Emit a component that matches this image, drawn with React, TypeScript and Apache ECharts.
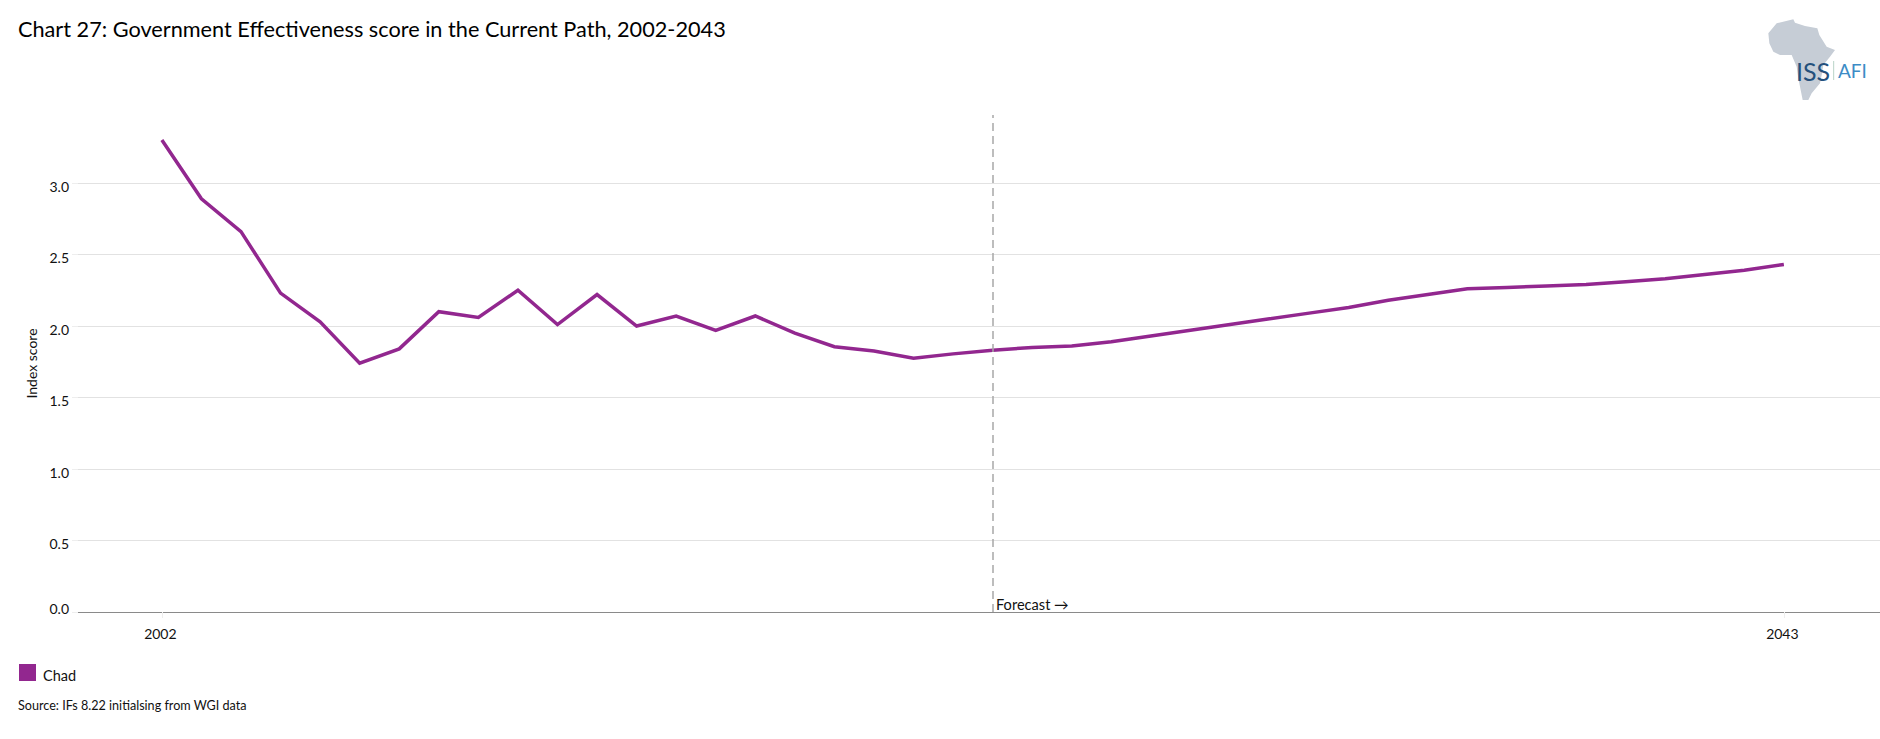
import React, { useEffect, useRef } from "react";
import * as echarts from "echarts";

const titleText = "Chart 27: Government Effectiveness score in the Current Path, 2002-2043";
const sourceText = "Source: IFs 8.22 initialsing from WGI data";
const seriesName = "Chad";
const years = [2002,2003,2004,2005,2006,2007,2008,2009,2010,2011,2012,2013,2014,2015,2016,2017,2018,2019,2020,2021,2022,2023,2024,2025,2026,2027,2028,2029,2030,2031,2032,2033,2034,2035,2036,2037,2038,2039,2040,2041,2042,2043];
const values = [3.30,2.89,2.66,2.23,2.03,1.74,1.84,2.10,2.06,2.25,2.01,2.22,2.00,2.07,1.97,2.07,1.95,1.855,1.825,1.775,1.805,1.83,1.85,1.86,1.89,1.93,1.97,2.01,2.05,2.09,2.13,2.18,2.22,2.26,2.27,2.28,2.29,2.31,2.33,2.36,2.39,2.43];
const yTicks = [0,0.5,1,1.5,2,2.5,3];
const xTicks = [2002,2043];
const forecastYear = 2023;

const FONT = "Lato";
const africa = [[290,70],[340,58],[345,68],[375,78],[412,85],[418,105],[440,140],[465,150],[450,170],[430,195],[425,225],[420,250],[395,280],[385,300],[368,300],[362,270],[355,235],[350,200],[335,165],[300,165],[280,155],[268,130],[265,100]].map(([x,y]) => [1680 + x/3, y/3]);

export default function App() {
  const ref = useRef<HTMLDivElement>(null);
  useEffect(() => {
    const chart = echarts.init(ref.current!, undefined, { renderer: "svg" });
    chart.setOption({
      animation: false,
      backgroundColor: "#fff",
      textStyle: { fontFamily: FONT },
      grid: { left: 78, right: 0, top: 115, bottom: 127 },
      xAxis: {
        type: "value", min: 1999.88, max: 2045.43,
        splitLine: { show: false },
        axisLine: { onZero: false, lineStyle: { color: "#8a8a8a", width: 1.2 } },
        axisTick: { customValues: xTicks, length: 6, lineStyle: { color: "#eeeeee" } },
        axisLabel: { customValues: xTicks, color: "#111", fontSize: 14, margin: 14, padding: [0, 3, 0, 0], formatter: (v: number) => String(v) },
      },
      yAxis: {
        type: "value", min: 0, max: 3.4755,
        name: "Index score", nameLocation: "middle", nameGap: 37,
        nameTextStyle: { color: "#111", fontSize: 14, fontFamily: FONT },
        axisLine: { show: false },
        axisTick: { customValues: yTicks, length: 6, lineStyle: { color: "#eeeeee" } },
        splitLine: { lineStyle: { color: "#e2e2e2", width: 1 } },
        axisLabel: {
          customValues: yTicks, color: "#111", fontSize: 14, margin: 9,
          lineHeight: 7, verticalAlign: "top", verticalAlignMinLabel: "bottom",
          formatter: (v: number) => v.toFixed(1),
        },
      },
      legend: {
        left: 14, top: 659, icon: "rect", itemWidth: 17, itemHeight: 17,
        formatter: (n: string) => `{a|${n}}`,
        textStyle: {
          color: "#111", fontSize: 14.5, fontFamily: FONT,
          rich: { a: { color: "#111", fontSize: 14.5, fontFamily: FONT, padding: [6, 0, 0, 2] } },
        },
        data: [seriesName],
      },
      series: [{
        name: seriesName, type: "line", showSymbol: false, symbol: "none",
        data: years.map((y, i) => [y, values[i]]),
        lineStyle: { color: "#92278f", width: 3.5, join: "miter" },
        itemStyle: { color: "#92278f" },
        markLine: {
          silent: true, symbol: "none", animation: false, label: { show: false },
          lineStyle: { color: "#a8a8a8", type: [8, 5], width: 1.5 },
          data: [{ xAxis: forecastYear }],
        },
      }],
      graphic: [
        { type: "text", left: 18, top: 18, style: { text: titleText, fontFamily: FONT, fontSize: 21.7, fill: "#000" } },
        { type: "text", left: 18, top: 699, style: { text: sourceText, fontFamily: FONT, fontSize: 12.6, fill: "#111" } },
        { type: "text", left: 996, top: 597, style: { text: "Forecast →", fontFamily: FONT, fontSize: 14.6, fill: "#111" } },
        { type: "polygon", shape: { points: africa }, style: { fill: "#c6cdd6" } },
        { type: "text", left: 1796, top: 58, style: { text: "ISS", fontFamily: FONT, fontSize: 25, fill: "#24507c" } },
        { type: "rect", shape: { x: 1833, y: 61, width: 1.2, height: 19 }, style: { fill: "#c4dad0" } },
        { type: "text", left: 1838, top: 61, style: { text: "AFI", fontFamily: FONT, fontSize: 19, fill: "#3c8cc6" } },
      ],
    });
    return () => chart.dispose();
  }, []);
  return <div ref={ref} style={{ position: "fixed", left: 0, top: 0, width: 1880, height: 739 }} />;
}
